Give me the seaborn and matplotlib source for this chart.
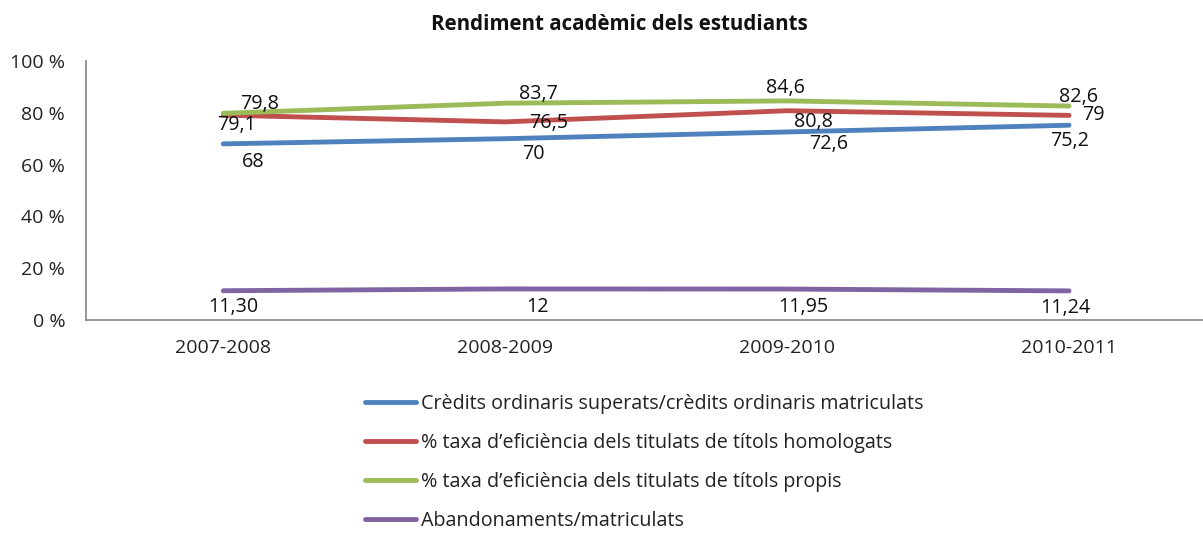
import pandas as pd
import matplotlib.pyplot as plt
import seaborn as sns
from matplotlib.ticker import FixedLocator

# data
cursos = ['2007-2008', '2008-2009', '2009-2010', '2010-2011']
series = ['Crèdits ordinaris superats/crèdits ordinaris matriculats',
          '% taxa d\u2019eficiència dels titulats de títols homologats',
          '% taxa d\u2019eficiència dels titulats de títols propis',
          'Abandonaments/matriculats']
credits = [68, 70, 72.6, 75.2]
homologats = [79.1, 76.5, 80.8, 79]
propis = [79.8, 83.7, 84.6, 82.6]
abandonaments = [11.30, 12, 11.95, 11.24]
labels_credits = ['68', '70', '72,6', '75,2']
labels_homologats = ['79,1', '76,5', '80,8', '79']
labels_propis = ['79,8', '83,7', '84,6', '82,6']
labels_abandonaments = ['11,30', '12', '11,95', '11,24']

colors = ['#4F81BD', '#C0504D', '#9BBB59', '#8064A2']

sns.set_style('white')
plt.rcParams['font.family'] = ['Open Sans', 'DejaVu Sans']

values = [credits, homologats, propis, abandonaments]
rows = []
for s, vals in zip(series, values):
    for c, v in zip(cursos, vals):
        rows.append({'curs': c, 'valor': v, 'serie': s})
df = pd.DataFrame(rows)

fig = plt.figure(figsize=(12.03, 5.33), dpi=100)
ax = fig.add_axes([86 / 1203, 1 - 320 / 533, 1124 / 1203, 259 / 533])

sns.lineplot(data=df, x='curs', y='valor', hue='serie', palette=colors,
             linewidth=3.5, sort=False, ax=ax, legend=False)

# data labels, offsets in pixels (dx, dy)
all_labels = [labels_credits, labels_homologats, labels_propis, labels_abandonaments]
offsets = [
    [(30, -18), (28, -15), (42, -12), (1, -16)],
    [(13, -10), (43, -1), (26, -11), (24, 0)],
    [(36, 9), (33, 9), (-2, 13), (10, 9)],
    [(10, -16), (32, -18), (16, -18), (-4, -17)],
]
for vals, labs, offs in zip(values, all_labels, offsets):
    for i, (v, t, o) in enumerate(zip(vals, labs, offs)):
        ax.annotate(t, (i, v), xytext=o, textcoords='offset pixels',
                    ha='center', va='center', fontsize=14.2, color='#111111')

ax.set_xlim(-0.487, 3.5)
ax.set_ylim(0, 100)
ax.set_yticks([0, 20, 40, 60, 80, 100])
ax.set_yticklabels([f'{v} %' for v in [0, 20, 40, 60, 80, 100]])
ax.xaxis.set_minor_locator(FixedLocator([0.5, 1.5, 2.5, 3.5]))
ax.tick_params(axis='x', which='major', length=0, pad=14, labelsize=14, labelcolor='#222222')
ax.tick_params(axis='x', which='minor', length=6, width=1, color='#868686', direction='out')
ax.tick_params(axis='y', length=6, width=1, color='#868686', direction='out', pad=9,
               labelsize=14, labelcolor='#222222')
ax.set_xlabel('')
ax.set_ylabel('')
for side in ['top', 'right']:
    ax.spines[side].set_visible(False)
for side in ['left', 'bottom']:
    ax.spines[side].set_color('#868686')
    ax.spines[side].set_linewidth(1.2)

fig.text(619 / 1203, 1 - 25 / 533, 'Rendiment acadèmic dels estudiants',
         ha='center', va='center', fontsize=14.8, fontweight='bold', color='#111111')

handles = [plt.Line2D([], [], color=c, linewidth=3.5) for c in colors]
fig.legend(handles, series, loc='upper left', bbox_to_anchor=(365 / 1203, 1 - 394 / 533),
           frameon=False, fontsize=14.2, handlelength=2.6, handletextpad=0.25,
           labelspacing=0.96, borderpad=0, borderaxespad=0, labelcolor='#222222')

fig.savefig('out.png', dpi=100)
